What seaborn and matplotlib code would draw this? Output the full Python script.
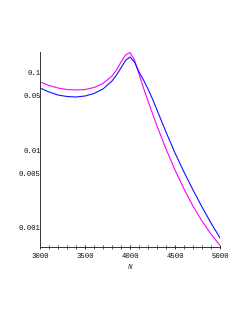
import numpy as np
import pandas as pd
import matplotlib
matplotlib.use("Agg")
import matplotlib.pyplot as plt
from matplotlib.ticker import FixedLocator, MultipleLocator, NullFormatter
import seaborn as sns

# values (log-scale y axis)
n_vals = [3000, 3100, 3200, 3300, 3400, 3500, 3600, 3700, 3800, 3850, 3900,
          3950, 4000, 4050, 4100, 4150, 4200, 4250, 4300, 4400, 4500, 4600,
          4700, 4800, 4900, 5000]
magenta_vals = [0.0750, 0.0676, 0.0628, 0.0600, 0.0592, 0.0600, 0.0637, 0.0718,
                0.0896, 0.107, 0.1357, 0.167, 0.180, 0.144, 0.0951, 0.0628,
                0.0427, 0.0295, 0.0204, 0.0103, 0.00553, 0.00315, 0.00190,
                0.00122, 0.00083, 0.00059]
blue_vals = [0.0628, 0.0558, 0.0510, 0.0488, 0.0481, 0.0495, 0.0533, 0.0610,
             0.0773, 0.0923, 0.1136, 0.1419, 0.1574, 0.1357, 0.1009, 0.0796,
             0.0610, 0.0453, 0.0327, 0.01705, 0.00915, 0.00521, 0.00306,
             0.00185, 0.00115, 0.00074]
ytick_vals = [0.1, 0.05, 0.01, 0.005, 0.001]
ytick_labels = ["0.1", "0.05", "0.01", "0.005", "0.001"]
xtick_vals = [3000, 3500, 4000, 4500, 5000]

df = pd.DataFrame({
    "N": n_vals * 2,
    "value": magenta_vals + blue_vals,
    "curve": ["a"] * len(n_vals) + ["b"] * len(n_vals),
})

sns.set_style("ticks")
plt.rcParams["font.family"] = ["Liberation Mono", "DejaVu Sans"]

fig = plt.figure(figsize=(2.45, 3.17), dpi=100)
ax = fig.add_axes([40 / 245, (317 - 247) / 317, 180 / 245, 195 / 317])

sns.lineplot(data=df, x="N", y="value", hue="curve",
             palette={"a": "#ff00ff", "b": "#1010ff"},
             linewidth=0.8, legend=False, ax=ax)

ax.set_yscale("log")
ax.set_xlim(3000, 5000)
ax.set_ylim(0.000565, 0.1824)

ax.yaxis.set_major_locator(FixedLocator(ytick_vals))
ax.set_yticklabels(ytick_labels)
ax.yaxis.set_minor_locator(FixedLocator([]))
ax.yaxis.set_minor_formatter(NullFormatter())
ax.xaxis.set_major_locator(FixedLocator(xtick_vals))
ax.xaxis.set_minor_locator(MultipleLocator(100))

ax.tick_params(axis="y", which="major", labelsize=5.2, length=0, pad=-0.5,
               colors="#111111")
ax.tick_params(axis="x", which="major", labelsize=5.2, length=3, width=0.6,
               pad=2.5, direction="inout", colors="#111111")
ax.tick_params(axis="x", which="minor", length=2.4, width=0.5,
               direction="inout", color="#222222")

for s in ["top", "right"]:
    ax.spines[s].set_visible(False)
for s in ["left", "bottom"]:
    ax.spines[s].set_linewidth(0.7)
    ax.spines[s].set_color("#333333")

ax.set_xlabel("N", fontsize=5.5, style="italic", labelpad=3.5)
ax.set_ylabel("")

fig.savefig("out.png", dpi=100)
